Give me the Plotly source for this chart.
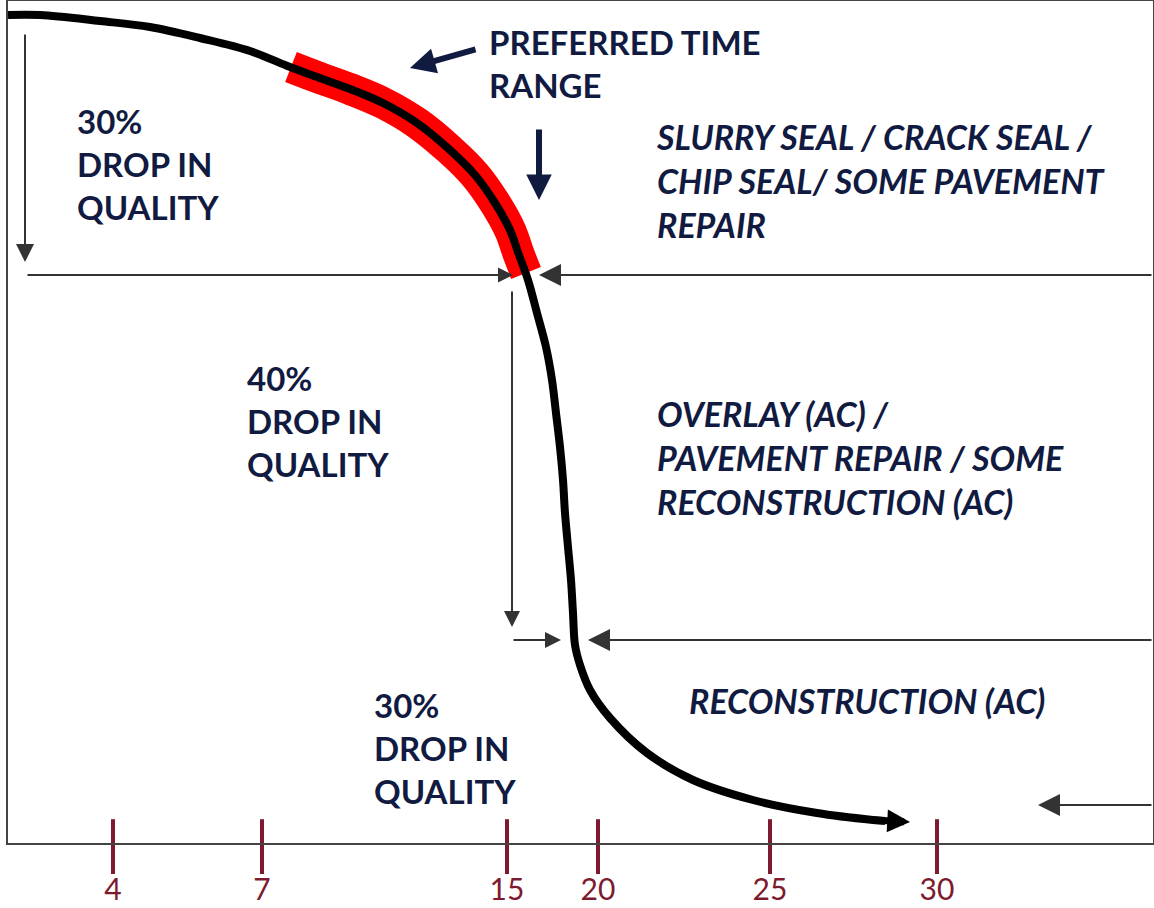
import plotly.graph_objects as go

# ---- data (diagram units: x = service-life position, y = pavement condition) ----
curve_x = [0, 32, 92, 142, 192, 242, 282, 309, 342, 375, 409, 442, 467, 487, 502, 511, 520, 529,
           538, 544, 548, 552, 555, 557, 560, 563, 565, 567, 572, 582, 602, 639, 685, 745, 809, 865, 877]
curve_y = [828, 828, 822, 816, 805, 792, 776, 766, 754, 740, 720, 693, 668, 640, 613, 588, 563, 530,
           496, 463, 430, 396, 363, 330, 296, 263, 230, 198, 178, 153, 125, 90, 63, 43, 30, 23, 22]

preferred_x = [283, 309, 342, 375, 409, 442, 467, 487, 502, 511, 518]
preferred_y = [776, 766, 754, 740, 720, 693, 668, 640, 613, 588, 570]

year_labels = ["4", "7", "15", "20", "25", "30"]
year_positions = [105, 254, 499, 590, 762, 929]

level_treatment = 568      # end of 30% drop
level_reconstruct = 203    # end of 40% drop

NAVY = "#111a40"
MAROON = "#7d1a2f"
LINE = "#333333"
FONT = "Lato"

X_MAX, Y_MAX = 1145, 842

fig = go.Figure()

# preferred time range (red band)
fig.add_trace(go.Scatter(x=preferred_x, y=preferred_y, mode="lines",
                         line=dict(color="#ff0000", width=32, shape="spline", smoothing=1.0),
                         hoverinfo="skip"))
# deterioration curve
fig.add_trace(go.Scatter(x=curve_x, y=curve_y, mode="lines",
                         line=dict(color="#000000", width=8, shape="spline", smoothing=1.0),
                         hoverinfo="skip"))
# inner half of the year tick marks (outer half drawn by the axis ticks)
fig.add_trace(go.Scatter(x=year_positions, y=[0] * len(year_positions), mode="markers",
                         marker=dict(symbol="line-ns", size=34, line=dict(width=4, color=MAROON)),
                         cliponaxis=False, hoverinfo="skip"))


def arrow(x0, y0, x1, y1, color=LINE, width=2, size=1.5):
    fig.add_annotation(x=x1, y=y1, ax=x0, ay=y0, xref="x", yref="y", axref="x", ayref="y",
                       showarrow=True, arrowhead=2, arrowsize=size, arrowwidth=width,
                       arrowcolor=color, text="")


# curve end arrow
arrow(curve_x[-2], curve_y[-2], 902, 21, color="#000000", width=7, size=0.65)

# guide arrows
arrow(17, 810, 17, level_treatment + 13, size=1.8)
arrow(18, level_treatment, 505, level_treatment, size=1.5)
arrow(X_MAX, level_treatment, 531, level_treatment, size=2.2)
arrow(504, level_treatment - 15, 504, level_reconstruct + 13, size=1.6)
arrow(504, level_reconstruct, 553, level_reconstruct, size=1.6)
arrow(X_MAX, level_reconstruct, 580, level_reconstruct, size=2.2)
arrow(X_MAX, 38, 1030, 38, size=2.2)

# navy pointer arrows
arrow(469, 794, 402, 775, color=NAVY, width=6, size=0.85)
arrow(531, 715, 531, 643, color=NAVY, width=6, size=0.85)


def label(x, y, text, italic=False, size=34):
    fig.add_annotation(x=x, y=y, xref="x", yref="y", text=text, showarrow=False,
                       xanchor="left", yanchor="middle", align="left",
                       font=dict(family=FONT, size=size, color=NAVY, weight="bold",
                                 style="italic" if italic else "normal"))


label(479, 779.5, "PREFERRED TIME<br>RANGE", size=33)
label(67, 679, "30%<br>DROP IN<br>QUALITY", size=33)
label(237, 422, "40%<br>DROP IN<br>QUALITY", size=33)
label(364, 95, "30%<br>DROP IN<br>QUALITY", size=33)
label(646, 663, "SLURRY SEAL / CRACK SEAL /<br>CHIP SEAL/ SOME PAVEMENT<br>REPAIR", italic=True)
label(647, 386, "OVERLAY (AC) /<br>PAVEMENT REPAIR / SOME<br>RECONSTRUCTION (AC)", italic=True)
label(679, 143, "RECONSTRUCTION (AC)", italic=True)

fig.update_layout(
    width=1154, height=908,
    margin=dict(l=8, r=1, t=1, b=65),
    paper_bgcolor="white", plot_bgcolor="white",
    showlegend=False,
    xaxis=dict(range=[0, X_MAX], showgrid=False, zeroline=False, showline=True, mirror=True,
               linecolor="#444444", linewidth=2, automargin=False,
               tickmode="array", tickvals=year_positions, ticktext=year_labels,
               ticks="outside", ticklen=29, tickwidth=4, tickcolor=MAROON,
               ticklabelstandoff=-10,
               tickfont=dict(family=FONT, size=30, color=MAROON)),
    yaxis=dict(range=[0, Y_MAX], showgrid=False, zeroline=False, showline=True, mirror=True,
               linecolor="#444444", linewidth=2, showticklabels=False, ticks="",
               automargin=False),
)

fig.write_html("out.html", config={"displayModeBar": False},
               post_script="document.body.style.margin='0';document.body.style.overflow='hidden';")
